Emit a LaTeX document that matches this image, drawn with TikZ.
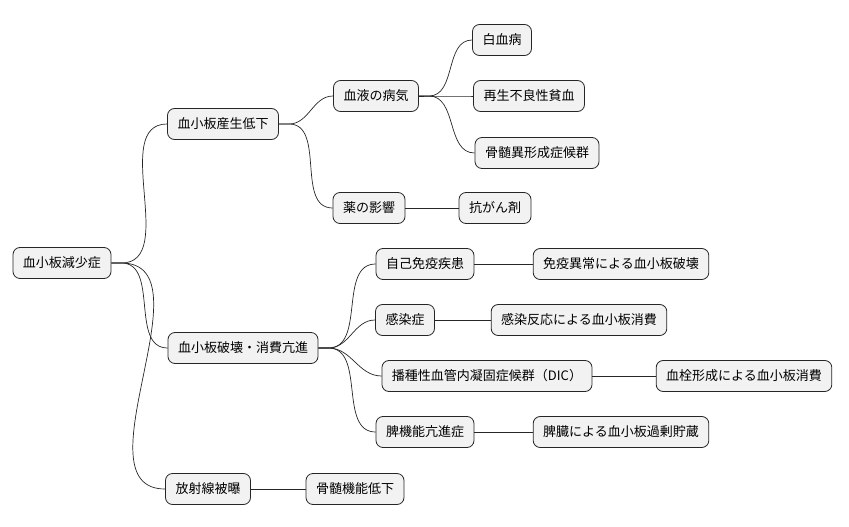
\documentclass[tikz,border=0pt]{standalone}
\usepackage{fontspec}
\setmainfont{Noto Sans CJK JP}
\usepackage{tikz}
\tikzset{
  topic/.style={draw=black!85,fill=black!5,rounded corners=7pt,line width=0.8pt,
    minimum height=31pt,inner xsep=10pt,inner ysep=0pt,
    font=\fontsize{13}{15}\selectfont},
  branch/.style={line width=0.7pt,black!85}
}
\begin{document}
\begin{tikzpicture}[x=1pt,y=-1pt]
\useasboundingbox (0,0) rectangle (849,527);
\node[topic] (root) at (62,263) {血小板減少症};
\node[topic] (prod) at (223,124) {血小板産生低下};
\node[topic] (dest) at (243,348) {血小板破壊・消費亢進};
\node[topic] (rad) at (208,489) {放射線被曝};
\node[topic] (blood) at (376,96) {血液の病気};
\node[topic] (drug) at (369,208) {薬の影響};
\node[topic] (auto) at (425,264) {自己免疫疾患};
\node[topic] (inf) at (405,320) {感染症};
\node[topic] (dic) at (487,376) {播種性血管内凝固症候群（DIC）};
\node[topic] (spl) at (425,432) {脾機能亢進症};
\node[topic] (bm) at (355,489) {骨髄機能低下};
\node[topic] (leuk) at (502,40) {白血病};
\node[topic] (apl) at (529,96) {再生不良性貧血};
\node[topic] (mds) at (537,153) {骨髄異形成症候群};
\node[topic] (anti) at (495,208) {抗がん剤};
\node[topic] (autoA) at (621,264) {免疫異常による血小板破壊};
\node[topic] (infA) at (579,320) {感染反応による血小板消費};
\node[topic] (dicA) at (744,376) {血栓形成による血小板消費};
\node[topic] (splA) at (621,432) {脾臓による血小板過剰貯蔵};
% branches
\foreach \p/\c in {root/prod,root/dest,root/rad,prod/blood,prod/drug,
  dest/auto,dest/inf,dest/dic,dest/spl,blood/leuk,blood/apl,blood/mds}
  \draw[branch] (\p.east) -- ++(10,0) to[out=0,in=180] (\c.west);
\foreach \p/\c in {rad/bm,drug/anti,auto/autoA,inf/infA,dic/dicA,spl/splA}
  \draw[branch] (\p.east) -- (\c.west);
\end{tikzpicture}
\end{document}
